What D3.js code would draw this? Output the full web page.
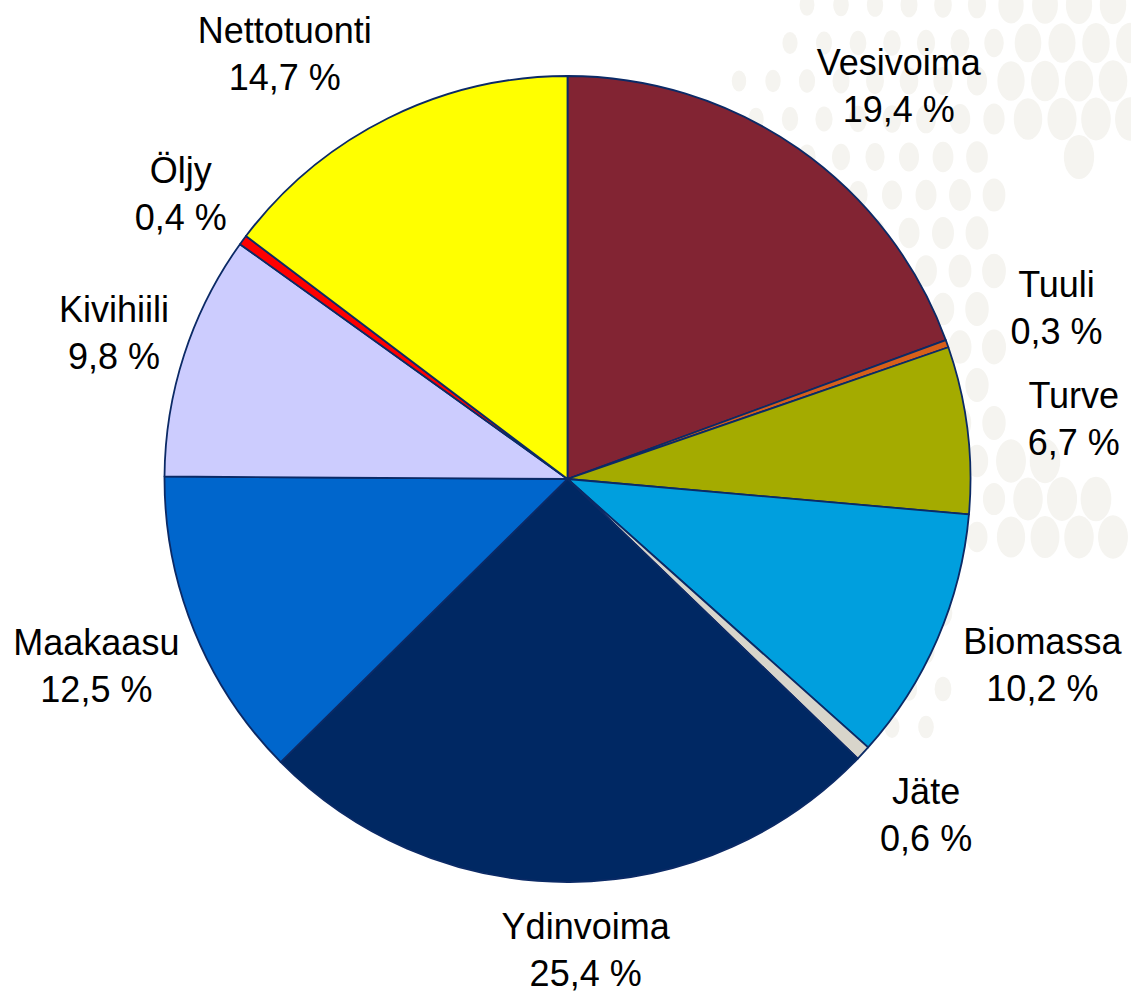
<!DOCTYPE html>
<html>
<head>
<meta charset="utf-8">
<script src="https://cdn.jsdelivr.net/npm/d3@7"></script>
<style>
  body { margin: 0; background: #fff; }
  svg { display: block; }
  .lbl { font-family: "Liberation Sans", Arial, sans-serif; font-size: 36px; fill: #000; }
</style>
</head>
<body>
<div id="chart-area"></div>
<script>
// data (share of electricity supply, %)
let sources = ["Vesivoima", "Tuuli", "Turve", "Biomassa", "Jäte", "Ydinvoima", "Maakaasu", "Kivihiili", "Öljy", "Nettotuonti"];
let shares = [19.4, 0.3, 6.7, 10.2, 0.6, 25.4, 12.5, 9.8, 0.4, 14.7];
let shareLabels = ["19,4 %", "0,3 %", "6,7 %", "10,2 %", "0,6 %", "25,4 %", "12,5 %", "9,8 %", "0,4 %", "14,7 %"];

let sliceColors = ["#822433", "#d65f1a", "#a4ab00", "#009fde", "#d8d5cb", "#002863", "#0066cc", "#ccccfe", "#ff0000", "#ffff00"];

let width = 1131, height = 994;
let cx = 567.5, cy = 479, radius = 403;

// hand placed labels in the original, small nudges from the label arc
let nudge = {
	"Vesivoima": [45, 29], "Tuuli": [18, 9], "Turve": [10, 14], "Biomassa": [16, 0],
	"Jäte": [-8, 9], "Ydinvoima": [15, -16], "Maakaasu": [-8, 11], "Kivihiili": [22, 21],
	"Öljy": [16, 24], "Nettotuonti": [-60, 35]
};

let data = sources.map((s, i) => ({name: s, value: shares[i], label: shareLabels[i]}));

let svg = d3.select("#chart-area").append("svg")
	.attr("width", width)
	.attr("height", height);

// background dot pattern (decoration only)
let dots = svg.append("g").attr("fill", "#f5f4f0");
for (let row = 0; row < 20; row++) {
	for (let col = 0; col < 13; col++) {
		let x = 705 + col * 34 + (row % 2) * 17;
		let y = 5 + row * 38;
		let dx = x - 1190, dy = y - 330;
		let d = Math.sqrt(dx * dx + dy * dy);
		if (d < 190 || d > 520) continue;
		if (x > 950 && y > 560) continue;
		if (x > 1000 && x < 1070 && y > 150 && y < 280) continue;
		let s = 0.65 + 0.45 * (1 - (d - 190) / 330) + (x > 1000 ? 0.3 : 0);
		dots.append("ellipse")
			.attr("cx", x).attr("cy", y)
			.attr("rx", 11 * s).attr("ry", 16 * s);
	}
}

let pie = d3.pie().sort(null).value(d => d.value);
let arcs = pie(data);

let arc = d3.arc().innerRadius(0).outerRadius(radius);
let labelArc = d3.arc().innerRadius(500).outerRadius(500);

let g = svg.append("g").attr("transform", "translate(" + cx + "," + cy + ")");

g.selectAll("path")
	.data(arcs)
	.enter()
	.append("path")
	.attr("d", arc)
	.attr("fill", (d, i) => sliceColors[i])
	.attr("stroke", "#0b2a66")
	.attr("stroke-width", 1.8)
	.attr("stroke-linejoin", "round");

let labels = g.selectAll("text")
	.data(arcs)
	.enter()
	.append("text")
	.attr("class", "lbl")
	.attr("text-anchor", "middle")
	.attr("transform", d => {
		let c = labelArc.centroid(d);
		let n = nudge[d.data.name];
		return "translate(" + (c[0] + n[0]) + "," + (c[1] + n[1]) + ")";
	});

labels.append("tspan").attr("x", 0).attr("y", -23.5).text(d => d.data.name);
labels.append("tspan").attr("x", 0).attr("y", 23.5).text(d => d.data.label);
</script>
</body>
</html>
